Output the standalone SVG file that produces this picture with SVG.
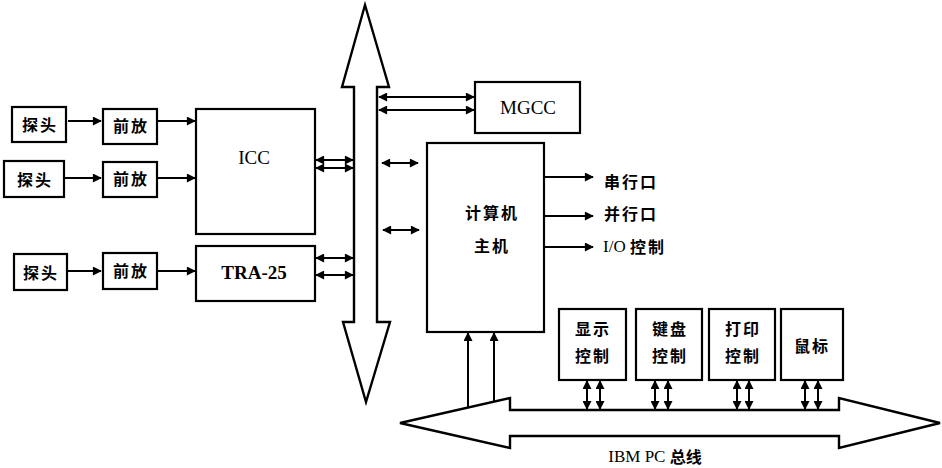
<svg xmlns="http://www.w3.org/2000/svg" width="942" height="468" viewBox="0 0 942 468">
<defs>
<marker id="ah" viewBox="0 0 10 10" refX="9" refY="5" markerWidth="10" markerHeight="9" markerUnits="userSpaceOnUse" orient="auto-start-reverse">
<path d="M0,0 L10,5 L0,10 Z" fill="#000"/>
</marker>
</defs>
<style>
.box{fill:#fff;stroke:#000;stroke-width:2.2}
.bus{fill:#fff;stroke:#000;stroke-width:2.4;stroke-linejoin:miter}
.cn{font-family:"Noto Sans CJK SC","Noto Sans",sans-serif;font-size:16px;font-weight:bold;fill:#000;text-anchor:middle;dominant-baseline:central;letter-spacing:2px}
.cnl{font-family:"Noto Sans CJK SC","Noto Sans",sans-serif;font-size:16px;font-weight:bold;fill:#000;dominant-baseline:central;letter-spacing:2px}
.lat{font-family:"Liberation Serif",serif;font-size:19px;fill:#000;text-anchor:middle;dominant-baseline:central}
.a1{stroke:#000;stroke-width:2;fill:none;marker-end:url(#ah)}
.a2{stroke:#000;stroke-width:2;fill:none;marker-start:url(#ah);marker-end:url(#ah)}
</style>
<rect width="942" height="468" fill="#fff"/>
<g id="bus-vertical"><polygon class="bus" points="365,5 389,87 377,87 377,322 390,322 366,402 343,322 354,322 354,87 342,87"/></g>
<g id="bus-ibmpc">
<polygon class="bus" points="400,423 510,398 510,410 839,410 839,398 940,423 839,448 839,436 510,436 510,448"/>
<text class="lat" x="655" y="456" style="font-size:17px">IBM PC <tspan font-family="Noto Sans CJK SC" font-weight="bold" font-size="16">总线</tspan></text>
</g>
<g id="probe1"><rect class="box" x="12" y="107" width="54" height="35"/><text class="cn" x="40" y="124">探头</text></g>
<g id="probe2"><rect class="box" x="4" y="161" width="60" height="36"/><text class="cn" x="35" y="179">探头</text></g>
<g id="probe3"><rect class="box" x="14" y="254" width="53" height="36"/><text class="cn" x="41" y="272">探头</text></g>
<g id="amp1"><rect class="box" x="103" y="109" width="54" height="35"/><text class="cn" x="131" y="125">前放</text></g>
<g id="amp2"><rect class="box" x="103" y="162" width="54" height="35"/><text class="cn" x="131" y="178">前放</text></g>
<g id="amp3"><rect class="box" x="103" y="253" width="54" height="36"/><text class="cn" x="131" y="270">前放</text></g>
<g id="icc"><rect class="box" x="196" y="109" width="119" height="125"/><text class="lat" x="254" y="157">ICC</text></g>
<g id="tra25"><rect class="box" x="196" y="246" width="119" height="55"/><text class="lat" x="254" y="272" font-weight="bold">TRA-25</text></g>
<g id="mgcc"><rect class="box" x="475" y="82" width="105" height="51"/><text class="lat" x="528" y="107">MGCC</text></g>
<g id="host"><rect class="box" x="427" y="143" width="117" height="189"/><text class="cn" x="492" y="212">计算机</text><text class="cn" x="492" y="245">主机</text></g>
<g id="serial"><text class="cnl" x="604" y="181">串行口</text></g>
<g id="parallel"><text class="cnl" x="604" y="213">并行口</text></g>
<g id="io"><text class="cnl" x="603" y="246"><tspan font-family="Liberation Serif" font-weight="normal" font-size="17" letter-spacing="0">I/O </tspan>控制</text></g>
<g id="display"><rect class="box" x="559" y="309" width="67" height="71"/><text class="cn" x="593" y="328">显示</text><text class="cn" x="593" y="355">控制</text></g>
<g id="keyboard"><rect class="box" x="636" y="309" width="66" height="71"/><text class="cn" x="670" y="328">键盘</text><text class="cn" x="670" y="355">控制</text></g>
<g id="printer"><rect class="box" x="709" y="309" width="66" height="71"/><text class="cn" x="743" y="328">打印</text><text class="cn" x="743" y="355">控制</text></g>
<g id="mouse"><rect class="box" x="781" y="309" width="62" height="71"/><text class="cn" x="812" y="345">鼠标</text></g>
<g id="connectors">
<line class="a1" x1="68" y1="121" x2="101" y2="121"/>
<line class="a1" x1="65" y1="178" x2="101" y2="178"/>
<line class="a1" x1="68" y1="271" x2="101" y2="271"/>
<line class="a1" x1="158" y1="121" x2="195" y2="121"/>
<line class="a1" x1="158" y1="178" x2="195" y2="178"/>
<line class="a1" x1="158" y1="271" x2="195" y2="271"/>
<line class="a2" x1="316" y1="160" x2="353" y2="160"/>
<line class="a2" x1="316" y1="168" x2="353" y2="168"/>
<line class="a2" x1="316" y1="258" x2="353" y2="258"/>
<line class="a2" x1="316" y1="275" x2="353" y2="275"/>
<line class="a2" x1="379" y1="97" x2="474" y2="97"/>
<line class="a2" x1="379" y1="110" x2="474" y2="110"/>
<line class="a2" x1="382" y1="163" x2="418" y2="163"/>
<line class="a2" x1="383" y1="230" x2="419" y2="230"/>
<line class="a1" x1="545" y1="177" x2="593" y2="177"/>
<line class="a1" x1="545" y1="216" x2="593" y2="216"/>
<line class="a1" x1="545" y1="247" x2="593" y2="247"/>
<line class="a1" x1="468" y1="407" x2="468" y2="333"/>
<line class="a1" x1="494" y1="402" x2="494" y2="333"/>
<line class="a2" x1="587" y1="381" x2="587" y2="409"/>
<line class="a2" x1="600" y1="381" x2="600" y2="409"/>
<line class="a2" x1="655" y1="381" x2="655" y2="409"/>
<line class="a2" x1="668" y1="381" x2="668" y2="409"/>
<line class="a2" x1="737" y1="381" x2="737" y2="409"/>
<line class="a2" x1="749" y1="381" x2="749" y2="409"/>
<line class="a2" x1="805" y1="381" x2="805" y2="409"/>
<line class="a2" x1="818" y1="381" x2="818" y2="409"/>
</g>
</svg>
